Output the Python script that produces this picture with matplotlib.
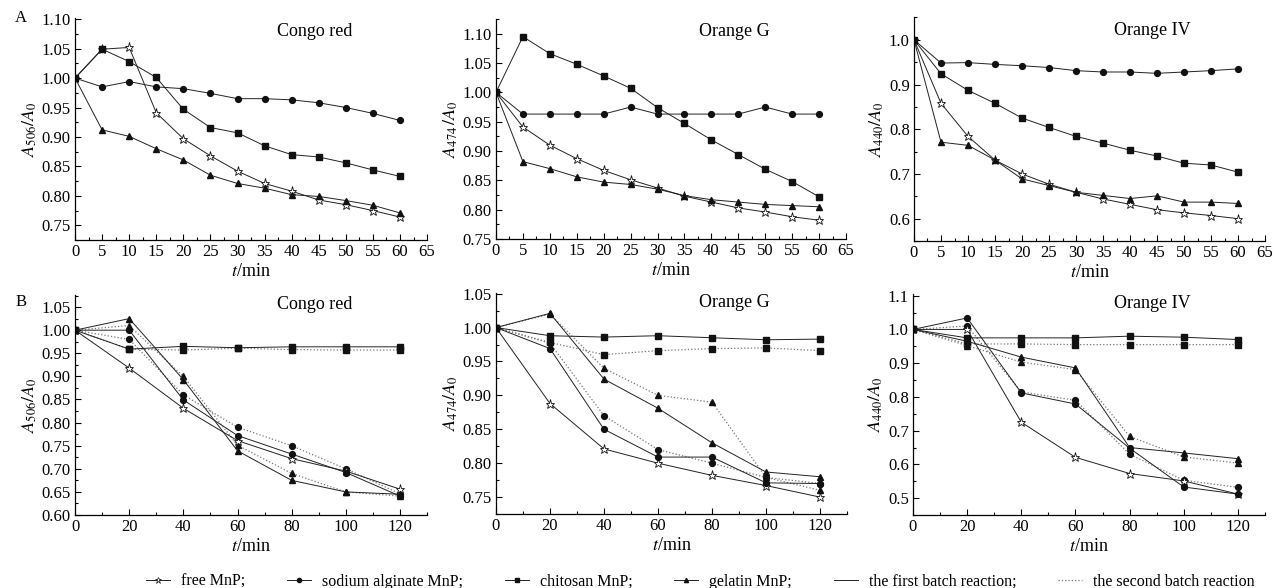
import matplotlib.pyplot as plt
from matplotlib.lines import Line2D
from matplotlib.ticker import MultipleLocator

# Serif text, Times-like maths for the A/A0 labels
plt.rcParams['font.family'] = ['Liberation Serif', 'DejaVu Serif']
plt.rcParams['mathtext.fontset'] = 'stix'

# ---- A: decolourisation over 60 min ----
t_a = [0, 5, 10, 15, 20, 25, 30, 35, 40, 45, 50, 55, 60]

congo_free = [1.00, 1.049, 1.052, 0.941, 0.897, 0.868, 0.842, 0.821, 0.808, 0.793, 0.785, 0.775, 0.764]
congo_alg = [1.00, 0.985, 0.994, 0.985, 0.982, 0.974, 0.965, 0.965, 0.963, 0.958, 0.950, 0.940, 0.928]
congo_chi = [1.00, 1.049, 1.028, 1.001, 0.947, 0.916, 0.907, 0.885, 0.870, 0.866, 0.856, 0.844, 0.833]
congo_gel = [1.00, 0.912, 0.901, 0.880, 0.861, 0.835, 0.821, 0.813, 0.802, 0.799, 0.792, 0.784, 0.771]

og_free = [1.00, 0.941, 0.910, 0.887, 0.867, 0.851, 0.837, 0.823, 0.813, 0.803, 0.796, 0.788, 0.782]
og_alg = [1.00, 0.963, 0.963, 0.963, 0.963, 0.975, 0.963, 0.963, 0.963, 0.963, 0.975, 0.963, 0.963]
og_chi = [1.00, 1.095, 1.066, 1.048, 1.028, 1.007, 0.974, 0.947, 0.919, 0.894, 0.869, 0.848, 0.822]
og_gel = [1.00, 0.882, 0.870, 0.856, 0.847, 0.843, 0.835, 0.824, 0.817, 0.813, 0.809, 0.807, 0.805]

o4_free = [1.00, 0.858, 0.784, 0.731, 0.700, 0.677, 0.659, 0.644, 0.632, 0.620, 0.613, 0.607, 0.600]
o4_alg = [1.00, 0.948, 0.949, 0.945, 0.942, 0.938, 0.931, 0.928, 0.928, 0.925, 0.928, 0.931, 0.935]
o4_chi = [1.00, 0.924, 0.887, 0.858, 0.825, 0.804, 0.784, 0.769, 0.753, 0.740, 0.724, 0.720, 0.704]
o4_gel = [1.00, 0.771, 0.764, 0.731, 0.689, 0.674, 0.659, 0.652, 0.645, 0.651, 0.637, 0.637, 0.634]

# ---- B: first (1) and second (2) batch, 120 min ----
t_b = [0, 20, 40, 60, 80, 100, 120]

congo_b_free = [1.00, 0.918, 0.831, 0.761, 0.722, 0.695, 0.656]
congo_b_alg1 = [1.00, 1.000, 0.849, 0.772, 0.732, 0.692, 0.641]
congo_b_alg2 = [1.00, 0.980, 0.860, 0.790, 0.750, 0.700, 0.646]
congo_b_chi1 = [1.00, 0.959, 0.965, 0.962, 0.964, 0.964, 0.964]
congo_b_chi2 = [1.00, 0.959, 0.957, 0.961, 0.958, 0.957, 0.957]
congo_b_gel1 = [1.00, 1.025, 0.893, 0.739, 0.675, 0.650, 0.645]
congo_b_gel2 = [1.00, 1.010, 0.900, 0.751, 0.690, 0.650, 0.641]

og_b_free = [1.00, 0.888, 0.821, 0.800, 0.782, 0.767, 0.750]
og_b_alg1 = [1.00, 0.969, 0.850, 0.809, 0.809, 0.771, 0.770]
og_b_alg2 = [1.00, 0.977, 0.870, 0.820, 0.800, 0.779, 0.770]
og_b_chi1 = [1.00, 0.988, 0.986, 0.988, 0.985, 0.982, 0.983]
og_b_chi2 = [1.00, 0.978, 0.960, 0.966, 0.969, 0.970, 0.966]
og_b_gel1 = [1.00, 1.021, 0.924, 0.881, 0.830, 0.787, 0.780]
og_b_gel2 = [1.00, 1.020, 0.940, 0.900, 0.890, 0.779, 0.760]

o4_b_free = [1.00, 1.000, 0.725, 0.621, 0.573, 0.551, 0.512]
o4_b_alg1 = [1.00, 1.034, 0.812, 0.779, 0.648, 0.533, 0.512]
o4_b_alg2 = [1.00, 1.010, 0.815, 0.790, 0.630, 0.553, 0.532]
o4_b_chi1 = [1.00, 0.975, 0.975, 0.975, 0.980, 0.977, 0.970]
o4_b_chi2 = [1.00, 0.957, 0.957, 0.955, 0.955, 0.955, 0.955]
o4_b_gel1 = [1.00, 0.965, 0.918, 0.886, 0.650, 0.634, 0.617]
o4_b_gel2 = [1.00, 0.952, 0.903, 0.881, 0.683, 0.622, 0.604]

legend_labels = ['free MnP;', 'sodium alginate MnP;', 'chitosan MnP;', 'gelatin MnP;',
                 'the first batch reaction;', 'the second batch reaction']

# marker style per enzyme form
STAR = dict(marker='*', ms=6.5, mfc='white', mec='#111111', mew=0.6)
DOT = dict(marker='o', ms=4.2, mfc='#111111', mec='#111111')
SQR = dict(marker='s', ms=4.0, mfc='#111111', mec='#111111')
TRI = dict(marker='^', ms=4.6, mfc='#111111', mec='#111111')
SOLID = dict(ls='-', color='#222222', lw=0.7)
DOTTED = dict(ls=':', color='#777777', lw=0.9)


def panel(fig, rect, xmax, xmaj, xmin, ylim, ymaj, ymin, ylab, title, ty):
    ax = fig.add_axes(rect)
    ax.set_xlim(0, xmax)
    ax.set_ylim(*ylim)
    ax.xaxis.set_major_locator(MultipleLocator(xmaj))
    ax.xaxis.set_minor_locator(MultipleLocator(xmin))
    ax.yaxis.set_major_locator(MultipleLocator(ymaj))
    ax.yaxis.set_minor_locator(MultipleLocator(ymin))
    ax.spines['top'].set_visible(False)
    ax.spines['right'].set_visible(False)
    for s in ('left', 'bottom'):
        ax.spines[s].set_linewidth(0.9)
    ax.tick_params(which='both', direction='in', labelsize=12, width=0.8, pad=3)
    ax.tick_params(which='major', length=4.5)
    ax.tick_params(which='minor', length=2.5)
    ax.set_xlabel('$t$/min', fontsize=13, labelpad=2)
    ax.set_ylabel(ylab, fontsize=13, labelpad=2)
    ax.text(0.68, ty, title, transform=ax.transAxes, fontsize=13,
            ha='center', va='center')
    return ax


fig = plt.figure(figsize=(12.76, 5.88), dpi=100)

top_rects = [[0.0588, 0.5918, 0.2759, 0.3776],
             [0.3887, 0.5935, 0.2743, 0.3741],
             [0.7163, 0.5901, 0.2751, 0.3810]]
bot_rects = [[0.0588, 0.1241, 0.2759, 0.3741],
             [0.3887, 0.1258, 0.2751, 0.3759],
             [0.7155, 0.1241, 0.2759, 0.3759]]

# Row A
ax = panel(fig, top_rects[0], 65, 5, 2.5, (0.725, 1.102), 0.05, 0.025,
           '$A_{506}/A_0$', 'Congo red', 0.94)
ax.yaxis.set_major_formatter('{x:.2f}')
for y, m in [(congo_free, STAR), (congo_alg, DOT), (congo_chi, SQR), (congo_gel, TRI)]:
    ax.plot(t_a, y, **SOLID, **m)

ax = panel(fig, top_rects[1], 65, 5, 2.5, (0.75, 1.125), 0.05, 0.025,
           '$A_{474}\\,/A_0$', 'Orange G', 0.945)
ax.yaxis.set_major_formatter('{x:.2f}')
for y, m in [(og_free, STAR), (og_alg, DOT), (og_chi, SQR), (og_gel, TRI)]:
    ax.plot(t_a, y, **SOLID, **m)

ax = panel(fig, top_rects[2], 65, 5, 2.5, (0.55, 1.051), 0.1, 0.05,
           '$A_{440}/A_0$', 'Orange IV', 0.94)
ax.yaxis.set_major_formatter('{x:.1f}')
for y, m in [(o4_free, STAR), (o4_alg, DOT), (o4_chi, SQR), (o4_gel, TRI)]:
    ax.plot(t_a, y, **SOLID, **m)

# Row B
b_sets = [
    (congo_b_free, congo_b_alg1, congo_b_alg2, congo_b_chi1, congo_b_chi2, congo_b_gel1, congo_b_gel2),
    (og_b_free, og_b_alg1, og_b_alg2, og_b_chi1, og_b_chi2, og_b_gel1, og_b_gel2),
    (o4_b_free, o4_b_alg1, o4_b_alg2, o4_b_chi1, o4_b_chi2, o4_b_gel1, o4_b_gel2),
]
b_opts = [((0.6, 1.076), 0.05, 0.025, '$A_{506}/A_0$', 'Congo red', '{x:.2f}'),
          ((0.725, 1.051), 0.05, 0.025, '$A_{474}/A_0$', 'Orange G', '{x:.2f}'),
          ((0.45, 1.105), 0.1, 0.05, '$A_{440}/A_0$', 'Orange IV', '{x:.1f}')]
for rect, data, (yl, ymaj, ymin, lab, title, fmt) in zip(bot_rects, b_sets, b_opts):
    ax = panel(fig, rect, 130, 20, 10, yl, ymaj, ymin, lab, title, 0.955)
    ax.yaxis.set_major_formatter(fmt)
    free, alg1, alg2, chi1, chi2, gel1, gel2 = data
    for y, m in [(alg2, DOT), (chi2, SQR), (gel2, TRI)]:
        ax.plot(t_b, y, **DOTTED, **m)
    for y, m in [(free, STAR), (alg1, DOT), (chi1, SQR), (gel1, TRI)]:
        ax.plot(t_b, y, **SOLID, **m)

fig.text(0.012, 0.962, 'A', fontsize=12)
fig.text(0.012, 0.48, 'B', fontsize=12)

# Shared legend along the bottom
small = dict(ms=3)
handles = [Line2D([], [], **SOLID, marker='*', ms=5, mfc='white', mec='#111111', mew=0.5),
           Line2D([], [], **SOLID, marker='o', **small, mfc='#111111', mec='#111111'),
           Line2D([], [], **SOLID, marker='s', **small, mfc='#111111', mec='#111111'),
           Line2D([], [], **SOLID, marker='^', **small, mfc='#111111', mec='#111111'),
           Line2D([], [], **SOLID),
           Line2D([], [], **DOTTED)]
fig.legend(handles, legend_labels, loc='center', bbox_to_anchor=(0.549, 0.011),
           ncol=6, frameon=False, fontsize=11.5, handlelength=1.5,
           handletextpad=0.7, columnspacing=2.6, borderpad=0, numpoints=1)

fig.savefig('out.png', dpi=100)
